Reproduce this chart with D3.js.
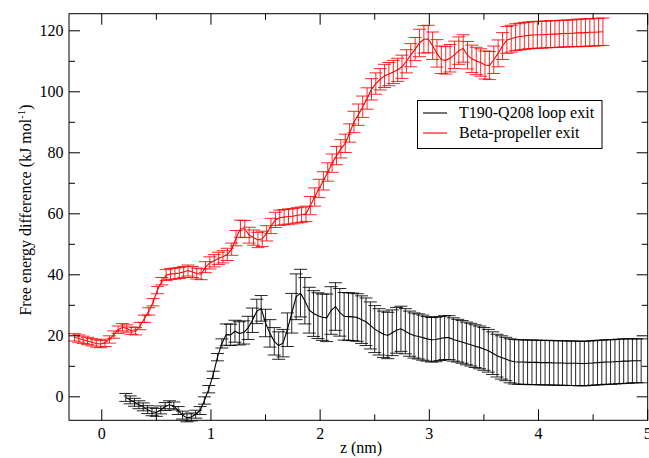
<!DOCTYPE html>
<html>
<head>
<meta charset="utf-8">
<script src="https://cdn.jsdelivr.net/npm/d3@7"></script>
<style>
  html, body { margin: 0; padding: 0; background: #fff; }
</style>
</head>
<body>
<svg id="chart" width="649" height="458"></svg>
<script>
// Free-energy profiles along the exit coordinate z, sampled every 0.04 nm
const seriesNames = ["T190-Q208 loop exit", "Beta-propeller exit"];
const seriesColors = ["#000000", "#ff0000"];
const zStep = 0.04;
const loopZStart = 0.22;
const propZStart = -0.25;

const loopFE = [
  -0.2, -1.0, -1.8, -2.6, -3.3, -4.2, -4.9, -5.1, -4.3, -3.2,
  -2.6, -3.0, -4.5, -6.0, -6.9, -6.6, -5.7, -4.5, -1.2, 2.5,
  7.2, 13.0, 17.5, 20.4, 20.3, 21.5, 20.8, 21.1, 22.6, 25.1,
  28.0, 29.0, 24.2, 20.8, 18.2, 16.8, 17.6, 22.0, 27.4, 32.8,
  34.0, 31.5, 28.4, 27.3, 26.6, 26.1, 25.9, 28.3, 29.6, 27.7,
  26.4, 26.3, 26.2, 26.0, 25.3, 24.6, 23.4, 22.2, 21.3, 20.5,
  20.1, 21.0, 21.8, 22.3, 21.5, 20.7, 20.1, 19.8, 19.4, 19.0,
  18.7, 18.8, 19.1, 19.4, 19.4, 18.8, 18.4, 18.0, 17.5, 17.1,
  16.6, 16.2, 15.7, 15.1, 14.3, 13.5, 12.9, 12.4, 11.8, 11.5,
  11.4, 11.4, 11.3, 11.3, 11.3, 11.2, 11.2, 11.2, 11.1, 11.1,
  11.1, 11.0, 11.0, 11.0, 10.9, 10.9, 11.0, 11.1, 11.2, 11.3,
  11.4, 11.4, 11.5, 11.6, 11.7, 11.7, 11.8, 11.8, 11.8
];
const loopErr = [
  1.3, 1.3, 1.3, 1.3, 1.3, 1.3, 1.3, 1.3, 1.3, 1.3,
  1.3, 1.3, 1.3, 1.3, 1.3, 1.3, 1.3, 1.3, 1.2, 1.2,
  1.2, 1.2, 1.5, 3.5, 3.5, 3.6, 3.8, 3.8, 3.8, 4.0,
  4.0, 4.2, 4.5, 4.5, 4.5, 4.5, 4.5, 5.5, 6.5, 7.5,
  7.8, 7.6, 7.5, 7.5, 7.5, 7.6, 7.8, 7.8, 7.8, 7.8,
  7.8, 7.8, 7.8, 7.8, 7.8, 7.8, 7.7, 7.7, 7.6, 7.6,
  7.6, 7.5, 7.5, 7.4, 7.4, 7.4, 7.4, 7.4, 7.4, 7.3,
  7.3, 7.3, 7.2, 7.2, 7.2, 7.1, 7.0, 7.0, 7.0, 7.0,
  7.0, 7.0, 7.0, 7.0, 7.0, 7.0, 7.1, 7.1, 7.2, 7.3,
  7.3, 7.3, 7.3, 7.3, 7.3, 7.3, 7.3, 7.3, 7.3, 7.3,
  7.3, 7.3, 7.3, 7.3, 7.3, 7.3, 7.3, 7.3, 7.3, 7.3,
  7.3, 7.3, 7.3, 7.3, 7.3, 7.3, 7.2, 7.2, 7.2
];

const propFE = [
  19.5, 19.1, 18.7, 18.3, 17.9, 17.5, 17.3, 17.7, 18.8, 20.4,
  22.0, 22.8, 22.4, 21.7, 21.5, 23.2, 25.6, 28.0, 31.0, 35.0,
  37.9, 39.9, 40.3, 40.4, 40.6, 40.9, 41.4, 40.9, 40.4, 40.2,
  42.5, 43.9, 44.6, 45.4, 45.9, 46.7, 48.4, 52.0, 55.1, 55.0,
  53.0, 52.2, 51.4, 51.8, 53.6, 56.0, 58.0, 58.7, 58.9, 59.1,
  59.2, 59.5, 59.7, 60.0, 62.7, 65.5, 68.3, 70.8, 73.7, 76.6,
  79.1, 81.3, 83.1, 86.5, 90.1, 92.5, 95.1, 97.8, 100.8, 102.7,
  104.1, 105.2, 105.8, 106.5, 107.2, 108.2, 110.0, 112.0, 114.0, 116.0,
  117.2, 117.3, 115.1, 112.6, 110.5, 110.3, 111.0, 112.1, 113.5, 114.2,
  112.0, 110.8, 110.1, 109.6, 108.8, 108.6, 110.5, 112.6, 115.0, 117.0,
  117.4, 117.9, 118.1, 118.3, 118.5, 118.6, 118.7, 118.7, 118.8, 118.9,
  118.9, 119.0, 119.1, 119.1, 119.2, 119.3, 119.3, 119.4, 119.5, 119.5,
  119.6, 119.7
];
const propErr = [
  1.2, 1.2, 1.2, 1.2, 1.2, 1.2, 1.2, 1.2, 1.2, 1.2,
  1.2, 1.2, 1.2, 1.2, 1.2, 1.2, 1.2, 1.2, 1.2, 1.2,
  1.2, 1.8, 1.8, 1.8, 1.8, 1.8, 1.8, 1.8, 1.8, 1.8,
  1.8, 2.0, 2.0, 2.0, 2.0, 2.0, 2.0, 2.5, 2.8, 2.8,
  2.6, 2.5, 2.5, 2.5, 2.5, 2.5, 2.5, 2.5, 2.5, 2.5,
  2.5, 2.5, 2.5, 2.5, 3.0, 3.0, 3.0, 3.0, 3.0, 3.0,
  3.0, 3.0, 3.0, 3.0, 3.5, 3.5, 3.5, 3.5, 3.5, 3.5,
  3.5, 3.8, 3.8, 3.8, 3.8, 3.8, 3.8, 3.8, 3.8, 4.5,
  4.5, 4.5, 4.5, 4.5, 4.5, 4.5, 4.5, 4.5, 4.5, 4.5,
  4.5, 4.5, 4.5, 4.5, 4.6, 4.6, 4.5, 4.4, 4.4, 4.4,
  4.4, 4.4, 4.4, 4.4, 4.4, 4.4, 4.4, 4.4, 4.4, 4.4,
  4.4, 4.4, 4.4, 4.4, 4.4, 4.5, 4.5, 4.5, 4.5, 4.5,
  4.5, 4.5
];

const xMajorTicks = [0, 1, 2, 3, 4, 5];
const xMinorTicks = [0.5, 1.5, 2.5, 3.5, 4.5];
const yMajorTicks = [0, 20, 40, 60, 80, 100, 120];
const yMinorTicks = [10, 30, 50, 70, 90, 110];

const xTitle = "z (nm)";
const yTitle = "Free energy difference (kJ mol";

// Plot frame
const frameL = 69, frameR = 647.7, frameT = 13.7, frameB = 420.3;
const x = d3.scaleLinear().domain([-0.3, 5]).range([frameL, frameR]);
const y = d3.scaleLinear().domain([-7.7, 125.6]).range([frameB, frameT]);

const svg = d3.select("#chart")
  .style("font-family", "'Liberation Serif', 'Times New Roman', serif");

function buildSeries(z0, fe, err) {
  return fe.map((v, i) => ({ z: z0 + i * zStep, v: v, e: err[i] }));
}
const series = [
  buildSeries(loopZStart, loopFE, loopErr),
  buildSeries(propZStart, propFE, propErr)
];

const plot = svg.append("g");
const capHalf = 6.5;

series.forEach((data, k) => {
  const g = plot.append("g");
  const color = seriesColors[k];
  // error bars with caps
  const eb = g.append("g")
    .attr("stroke", color)
    .attr("stroke-width", 1)
    .attr("fill", "none");
  eb.selectAll("path.bar").data(data).join("path")
    .attr("class", "bar")
    .attr("d", d => {
      const px = x(d.z), y1 = y(d.v + d.e), y2 = y(d.v - d.e);
      return `M${px},${y1}V${y2}` +
        `M${px - capHalf},${y1}H${px + capHalf}` +
        `M${px - capHalf},${y2}H${px + capHalf}`;
    })
    .attr("stroke-opacity", 0.85);
  // mean curve
  g.append("path")
    .datum(data)
    .attr("fill", "none")
    .attr("stroke", color)
    .attr("stroke-width", 1.1)
    .attr("d", d3.line().x(d => x(d.z)).y(d => y(d.v)));
});

// Frame and inward ticks on all four sides
const axes = svg.append("g").attr("stroke", "#000").attr("stroke-width", 1);
axes.append("rect")
  .attr("x", frameL).attr("y", frameT)
  .attr("width", frameR - frameL).attr("height", frameB - frameT)
  .attr("fill", "none");

const majorLen = 11, minorLen = 6;
function xTick(v, len) {
  const px = x(v);
  axes.append("line").attr("x1", px).attr("x2", px).attr("y1", frameB).attr("y2", frameB - len);
  axes.append("line").attr("x1", px).attr("x2", px).attr("y1", frameT).attr("y2", frameT + len);
}
function yTick(v, len) {
  const py = y(v);
  axes.append("line").attr("x1", frameL).attr("x2", frameL + len).attr("y1", py).attr("y2", py);
  axes.append("line").attr("x1", frameR).attr("x2", frameR - len).attr("y1", py).attr("y2", py);
}
xMajorTicks.forEach(v => xTick(v, majorLen));
xMinorTicks.forEach(v => xTick(v, minorLen));
yMajorTicks.forEach(v => yTick(v, majorLen));
yMinorTicks.forEach(v => yTick(v, minorLen));

// Tick labels
svg.append("g").selectAll("text").data(xMajorTicks).join("text")
  .attr("x", d => x(d)).attr("y", 438.5)
  .attr("text-anchor", "middle")
  .attr("font-size", 16)
  .text(d => d);
svg.append("g").selectAll("text").data(yMajorTicks).join("text")
  .attr("x", 63.5).attr("y", d => y(d) + 5.5)
  .attr("text-anchor", "end")
  .attr("font-size", 16)
  .text(d => d);

// Axis titles
svg.append("text")
  .attr("x", 361).attr("y", 453)
  .attr("text-anchor", "middle")
  .attr("font-size", 16)
  .text(xTitle);

const yt = svg.append("text")
  .attr("transform", "translate(31,210) rotate(-90)")
  .attr("text-anchor", "middle")
  .attr("font-size", 16);
yt.append("tspan").text(yTitle);
yt.append("tspan").attr("dy", -6).attr("font-size", 11).text("-1");
yt.append("tspan").attr("dy", 6).text(")");

// Legend
const lg = svg.append("g");
lg.append("rect")
  .attr("x", 417.5).attr("y", 100.5)
  .attr("width", 184.5).attr("height", 48)
  .attr("fill", "#fff").attr("stroke", "#000").attr("stroke-width", 1);
seriesNames.forEach((name, i) => {
  const ly = 113 + i * 20;
  lg.append("line")
    .attr("x1", 423).attr("x2", 447)
    .attr("y1", ly).attr("y2", ly)
    .attr("stroke", seriesColors[i]).attr("stroke-width", 1.1);
  lg.append("text")
    .attr("x", 459).attr("y", ly + 4.5)
    .attr("font-size", 16)
    .text(name);
});
</script>
</body>
</html>
